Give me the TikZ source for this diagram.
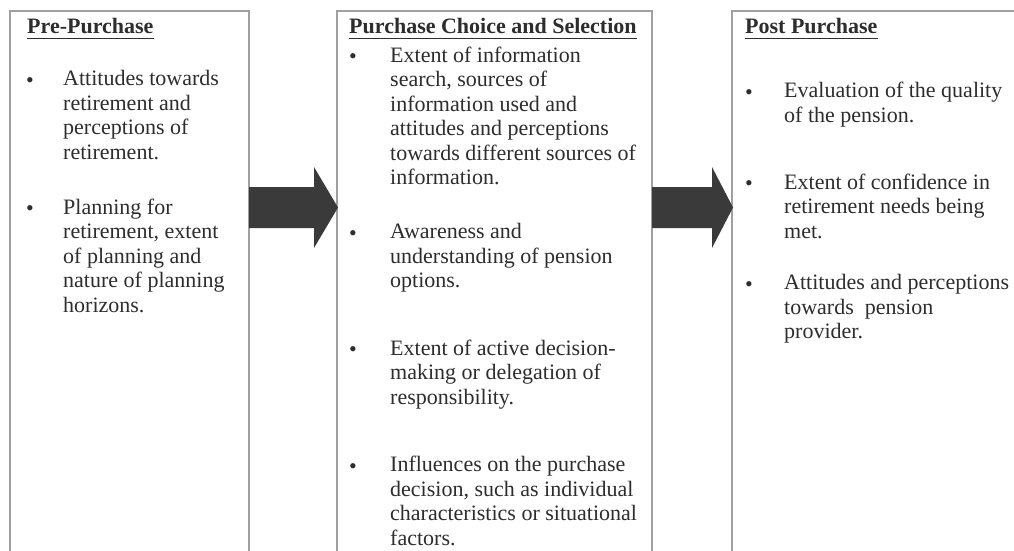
\documentclass[tikz,border=0pt]{standalone}
\usepackage{fontspec}
\setmainfont{Liberation Serif}
\usetikzlibrary{calc}
\definecolor{txt}{RGB}{45,45,45}
\definecolor{bord}{RGB}{160,160,160}
\definecolor{arr}{RGB}{58,58,58}
\begin{document}
\begin{tikzpicture}[x=1pt,y=-1pt,
  box/.style={draw=bord, line width=1.8pt, inner sep=0pt, outer sep=0pt, anchor=north west, minimum height=620pt},
  head/.style={anchor=base west, inner sep=0pt, font=\fontsize{22}{24.5}\selectfont\bfseries, text=txt},
  item/.style={anchor=north west, inner sep=0pt, yshift=17.15pt, align=left, font=\fontsize{22}{24.5}\selectfont, text=txt, execute at begin node=\strut},
  bul/.style={anchor=base, inner sep=0pt, font=\fontsize{22}{24.5}\selectfont, text=txt},
  uline/.style={draw=txt, line width=1.6pt},
  blockarrow/.style={fill=arr}]
\useasboundingbox (0,0) rectangle (1014,551);
\clip (0,0) rectangle (1014,551);
\fill[white] (0,0) rectangle (1014,551);

% boxes
\node[box, minimum width=239pt] (b1) at (10,11) {};
\node[box, minimum width=315pt] (b2) at (337,11) {};
\node[box, minimum width=320pt] (b3) at (732,11) {};

% headings
\node[head] (h1) at (27,33.5) {Pre-Purchase};
\draw[uline] ($(h1.base west)+(0,5)$) -- ($(h1.base east)+(0,5)$);
\node[head] (h2) at (349,33.5) {Purchase Choice and Selection};
\draw[uline] ($(h2.base west)+(0,5)$) -- ($(h2.base east)+(0,5)$);
\node[head] (h3) at (745,33.5) {Post Purchase};
\draw[uline] ($(h3.base west)+(0,5)$) -- ($(h3.base east)+(0,5)$);

% left box items
\node[bul] (l1b) at (30,87.5) {•};
\node[item] (l1) at (63,87.5) {Attitudes towards\\retirement and\\perceptions of\\retirement.};
\node[bul] (l2b) at (30,215.5) {•};
\node[item] (l2) at (63,215.5) {Planning for\\retirement, extent\\of planning and\\nature of planning\\horizons.};

% middle box items
\node[bul] (m1b) at (353,63.5) {•};
\node[item] (m1) at (390,63.5) {Extent of information\\search, sources of\\information used and\\attitudes and perceptions\\towards different sources of\\information.};
\node[bul] (m2b) at (353,240.5) {•};
\node[item] (m2) at (390,240.5) {Awareness and\\understanding of pension\\options.};
\node[bul] (m3b) at (353,356.7) {•};
\node[item] (m3) at (390,356.7) {Extent of active decision-\\making or delegation of\\responsibility.};
\node[bul] (m4b) at (353,473.3) {•};
\node[item] (m4) at (390,473.3) {Influences on the purchase\\decision, such as individual\\characteristics or situational\\factors.};

% right box items
\node[bul] (r1b) at (749,99) {•};
\node[item] (r1) at (784,99) {Evaluation of the quality\\of the pension.};
\node[bul] (r2b) at (749,190.5) {•};
\node[item] (r2) at (784,190.5) {Extent of confidence in\\retirement needs being\\met.};
\node[bul] (r3b) at (749,291.5) {•};
\node[item] (r3) at (784,291.5) {Attitudes and perceptions\\towards~ pension\\provider.};

% block arrows
\coordinate (a1s) at ($(b1.north east)+(0,196.5)$);
\coordinate (a1t) at ($(b2.north west)+(1,196.5)$);
\fill[blockarrow] ($(a1s)+(0,-20.5)$) -- ($(a1t)+(-24,-20.5)$) -- ($(a1t)+(-24,-40.5)$) -- (a1t)
  -- ($(a1t)+(-24,40.5)$) -- ($(a1t)+(-24,20.5)$) -- ($(a1s)+(0,20.5)$) -- cycle;
\coordinate (a2s) at ($(b2.north east)+(0,196.5)$);
\coordinate (a2t) at ($(b3.north west)+(1,196.5)$);
\fill[blockarrow] ($(a2s)+(0,-20.5)$) -- ($(a2t)+(-21,-20.5)$) -- ($(a2t)+(-21,-40.5)$) -- (a2t)
  -- ($(a2t)+(-21,40.5)$) -- ($(a2t)+(-21,20.5)$) -- ($(a2s)+(0,20.5)$) -- cycle;
\end{tikzpicture}
\end{document}
